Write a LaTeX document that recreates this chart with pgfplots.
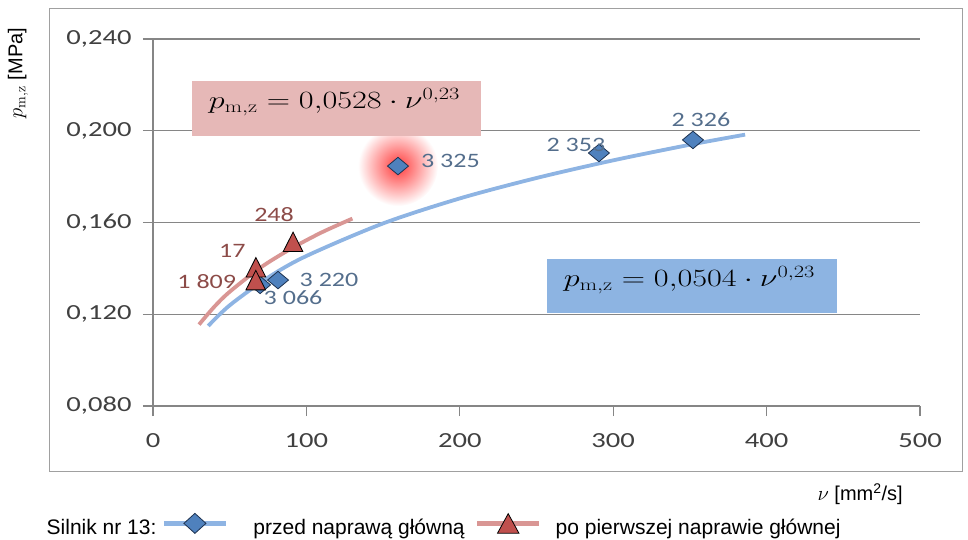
\documentclass[border=0pt]{standalone}
\usepackage[no-math]{fontspec}
\usepackage{graphicx}
\usepackage{pgfplots}
\pgfplotsset{compat=1.18}
\setmainfont{Liberation Sans}
\newfontfamily\calfont{Carlito}[FakeStretch=1.27]
\newfontfamily\calticks{Carlito}[FakeStretch=1.33]
\definecolor{gridgray}{RGB}{134,134,134}
\definecolor{blueline}{RGB}{142,180,227}
\definecolor{redline}{RGB}{217,150,148}
\definecolor{bluemark}{RGB}{79,129,189}
\definecolor{bluedraw}{RGB}{30,50,80}
\definecolor{redmark}{RGB}{192,80,77}
\definecolor{bluelab}{RGB}{84,110,140}
\definecolor{redlab}{RGB}{140,75,72}
\definecolor{boxred}{RGB}{230,184,183}
\definecolor{boxblue}{RGB}{141,180,226}
\definecolor{ticktext}{RGB}{64,64,64}
\definecolor{framegray}{RGB}{160,160,160}
\definecolor{glow}{RGB}{255,60,60}
\begin{document}
\begin{tikzpicture}
\useasboundingbox (0,0) rectangle (968bp,540bp);
\draw[framegray, line width=1bp] (49bp,68bp) rectangle (962bp,531bp);
\begin{axis}[
  at={(153bp,134bp)}, anchor=south west,
  scale only axis, width=767bp, height=367bp,
  xmin=0, xmax=500, ymin=0.08, ymax=0.24,
  xtick={0,100,200,300,400,500},
  ytick={0.08,0.12,0.16,0.2,0.24},
  axis x line*=bottom, axis y line*=left,
  axis line style={gridgray, line width=1.2bp, -},
  tick style={gridgray, line width=1.2bp},
  tick align=outside, major tick length=10bp,
  ymajorgrids, grid style={gridgray, line width=1.2bp},
  /pgf/number format/assume math mode=true,
  ticklabel style={font=\calticks\fontsize{21.5bp}{25bp}\selectfont, text=ticktext},
  yticklabel style={xshift=-8bp, /pgf/number format/.cd, fixed, fixed zerofill, precision=3, use comma},
  xticklabel style={yshift=-14bp, /pgf/number format/.cd, fixed, precision=0},
  xlabel={$\nu$ [mm\textsuperscript{2}/s]},
  ylabel={$p_{\mathrm{m,z}}$ [MPa]},
  label style={font=\fontsize{20bp}{24bp}\selectfont},
  xlabel style={at={(axis description cs:0.922,-0.24)}, anchor=center},
  ylabel style={at={(axis description cs:-0.176,0.907)}, anchor=center},
  legend columns=3,
  legend cell align=left,
  legend image code/.code={
    \draw[mark repeat=2, mark phase=2, #1] plot coordinates {(0bp,6bp) (31bp,6bp) (62bp,6bp)};
  },
  legend style={draw=none, fill=none, inner sep=0pt, outer sep=0pt,
     at={(axis description cs:-0.1386,-0.328)}, anchor=west,
     /tikz/column sep=0pt,
     /tikz/column 2/.style={column sep=5bp},
     /tikz/column 3/.style={column sep=25bp},
     /tikz/column 4/.style={column sep=10bp},
     /tikz/column 5/.style={column sep=14bp},
     nodes={inner sep=0pt, text height=15.5bp, text depth=4.5bp, font=\fontsize{21bp}{25bp}\selectfont}},
]
\addlegendimage{empty legend}
\addlegendentry{Silnik nr 13:}
\addlegendimage{blueline, line width=5bp, mark=diamond*, mark size=10bp, mark options={solid, fill=bluemark, draw=bluedraw, line width=0.8bp, xscale=1.47}}
\addlegendentry{przed naprawą główną}
\addlegendimage{redline, line width=5bp, mark=triangle*, mark size=13bp, mark options={solid, fill=redmark, draw=black, line width=0.8bp, xscale=0.95, yshift=-3.3bp}}
\addlegendentry{po pierwszej naprawie głównej}

% glow
\addplot[draw=none, forget plot, nodes near coords={},
  every node near coord/.style={circle, minimum size=80bp, inner sep=0pt, anchor=center, shading=radial, inner color=glow, outer color=white}]
  coordinates {(159.7,0.1846)};

% trend lines
\addplot[blueline, line width=3.8bp, smooth, forget plot] coordinates {(36,0.1149)(50,0.1239)(75,0.1360)(100,0.1454)(150,0.1596)(200,0.1705)(250,0.1794)(300,0.1871)(350,0.1939)(386,0.1983)};
\addplot[redline, line width=3.8bp, smooth, forget plot] coordinates {(30,0.1155)(40,0.1233)(50,0.1298)(70,0.1403)(90,0.1486)(110,0.1557)(130,0.1617)};

% blue points
\addplot[only marks, forget plot, mark=diamond*, mark size=8.75bp,
  mark options={fill=bluemark, draw=bluedraw, line width=0.8bp, xscale=1.6},
  nodes near coords, point meta=explicit symbolic,
  visualization depends on={value \thisrow{dx}\as\dx},
  visualization depends on={value \thisrow{dy}\as\dy},
  every node near coord/.append style={anchor=center, inner sep=0pt, xshift=\dx*1bp, yshift=\dy*1bp, text=bluelab, font=\calfont\fontsize{20.5bp}{24bp}\selectfont}]
  table[col sep=comma, row sep=\\, x=x, y=y, meta=lab]{
  x,y,lab,dx,dy\\
  159.7,0.1846,3 325,52.5,5\\
  290.7,0.1903,2 353,-23,8\\
  352,0.1960,2 326,8,20\\
  81.5,0.1349,3 220,51,0\\
  69.8,0.1328,3 066,33,-13\\
  };

% red points
\addplot[only marks, forget plot, mark=triangle*, mark size=13bp,
  mark options={fill=redmark, draw=black, line width=0.8bp, xscale=0.87, yshift=-3.3bp},
  nodes near coords, point meta=explicit symbolic,
  visualization depends on={value \thisrow{dx}\as\dx},
  visualization depends on={value \thisrow{dy}\as\dy},
  every node near coord/.append style={anchor=center, inner sep=0pt, xshift=\dx*1bp, yshift=\dy*1bp, text=redlab, font=\calfont\fontsize{20.5bp}{24bp}\selectfont}]
  table[col sep=comma, row sep=\\, x=x, y=y, meta=lab]{
  x,y,lab,dx,dy\\
  91.3,0.1516,248,-19,30.7\\
  67.1,0.1405,17,-23.5,20\\
  67,0.1349,1 809,-49,2\\
  };
\end{axis}
% equation boxes
\fill[boxred] (191.7bp,404.3bp) rectangle (481bp,459bp);
\node[inner sep=0pt, anchor=center] at (334.5bp,438bp) {\scalebox{1.3}[1]{\fontsize{25bp}{30bp}\selectfont $p_{\mathrm{m,z}} = 0{,}0528\cdot \nu^{0{,}23}$}};
\fill[boxblue] (547bp,227bp) rectangle (837bp,281bp);
\node[inner sep=0pt, anchor=center] at (689.5bp,260bp) {\scalebox{1.3}[1]{\fontsize{25bp}{30bp}\selectfont $p_{\mathrm{m,z}} = 0{,}0504\cdot \nu^{0{,}23}$}};
\end{tikzpicture}
\end{document}
